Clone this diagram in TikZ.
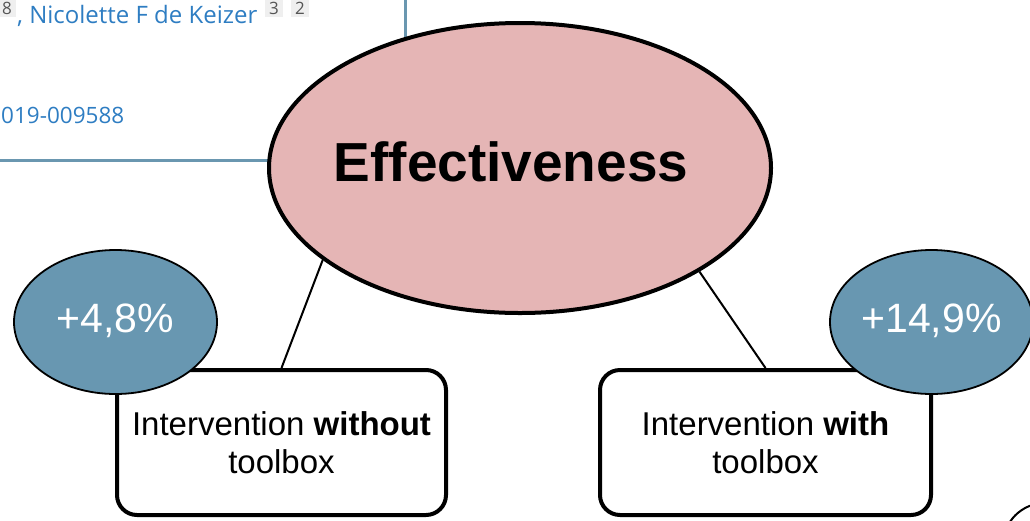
\documentclass[tikz,border=0pt]{standalone}
\usepackage{fontspec}
\setmainfont{Liberation Sans}
\newfontfamily\webfont{Open Sans}
\usetikzlibrary{shapes.geometric,backgrounds}
\definecolor{pinkfill}{HTML}{E5B5B5}
\definecolor{bluefill}{HTML}{6897B1}
\definecolor{webborder}{HTML}{6A97B0}
\definecolor{linkblue}{HTML}{2E7DC2}
\definecolor{supbg}{HTML}{EFEFEF}
\definecolor{supfg}{HTML}{555555}
\tikzset{
  bigell/.style={ellipse, draw=black, line width=4pt, fill=pinkfill, inner sep=0pt,
    minimum width=502pt, minimum height=290pt,
    font=\bfseries\fontsize{55}{60}\selectfont, text height=26pt, text depth=0pt},
  valell/.style={ellipse, draw=black, line width=1.8pt, fill=bluefill, inner sep=0pt,
    minimum width=203pt, minimum height=144pt, text=white,
    font=\fontsize{41}{43}\selectfont, text height=21pt, text depth=0pt},
  interbox/.style={draw=black, line width=4pt, rounded corners=20pt, fill=white,
    minimum height=145pt, align=center, inner sep=0pt,
    font=\fontsize{33}{38}\selectfont},
  connector/.style={draw=black, line width=2pt},
  weblink/.style={anchor=base west, inner sep=0pt, text=linkblue,
    font=\webfont\fontsize{24}{28}\selectfont},
  supbox/.style={fill=supbg, text=supfg, inner sep=0pt, minimum width=18pt,
    minimum height=18pt, font=\webfont\fontsize{17}{18}\selectfont},
}
\begin{document}
\begin{tikzpicture}[x=1pt,y=-1pt]
\useasboundingbox (0,0) rectangle (1030,520);

% main nodes
\node[bigell] (eff) at (520,168) {\hspace*{-18pt}Effectiveness};
\node[interbox, minimum width=329pt] (lbox) at (281.5,442.5) {Intervention \textbf{without}\\toolbox};
\node[interbox, minimum width=331pt] (rbox) at (765.5,442.5) {Intervention \textbf{with}\\toolbox};
\node[valell] (lval) at (115.5,322) {+4,8\%};
\node[valell] (rval) at (931.5,322) {+14,9\%};

\begin{scope}[on background layer]
  % web page fragment
  \draw[webborder, line width=3pt] (0,160) -- (405,160) -- (405,-5);
  \node[supbox] (s8) at (7,8) {8};
  \node[weblink] (author) at (17,23) {, Nicolette F de Keizer};
  \node[supbox] (s3) at (274,8) {3};
  \node[supbox] (s2) at (300,8) {2};
  \node[weblink, font=\webfont\fontsize{22.5}{26}\selectfont] (doi) at (1,123) {019-009588};
  % connectors
  \draw[connector] (eff.205) -- (lbox.north);
  \draw[connector] (eff.-30) -- (rbox.north);
\end{scope}

% partial circle at the bottom right corner
\draw[line width=2pt] (1045,545) circle[radius=42pt];
\end{tikzpicture}
\end{document}
